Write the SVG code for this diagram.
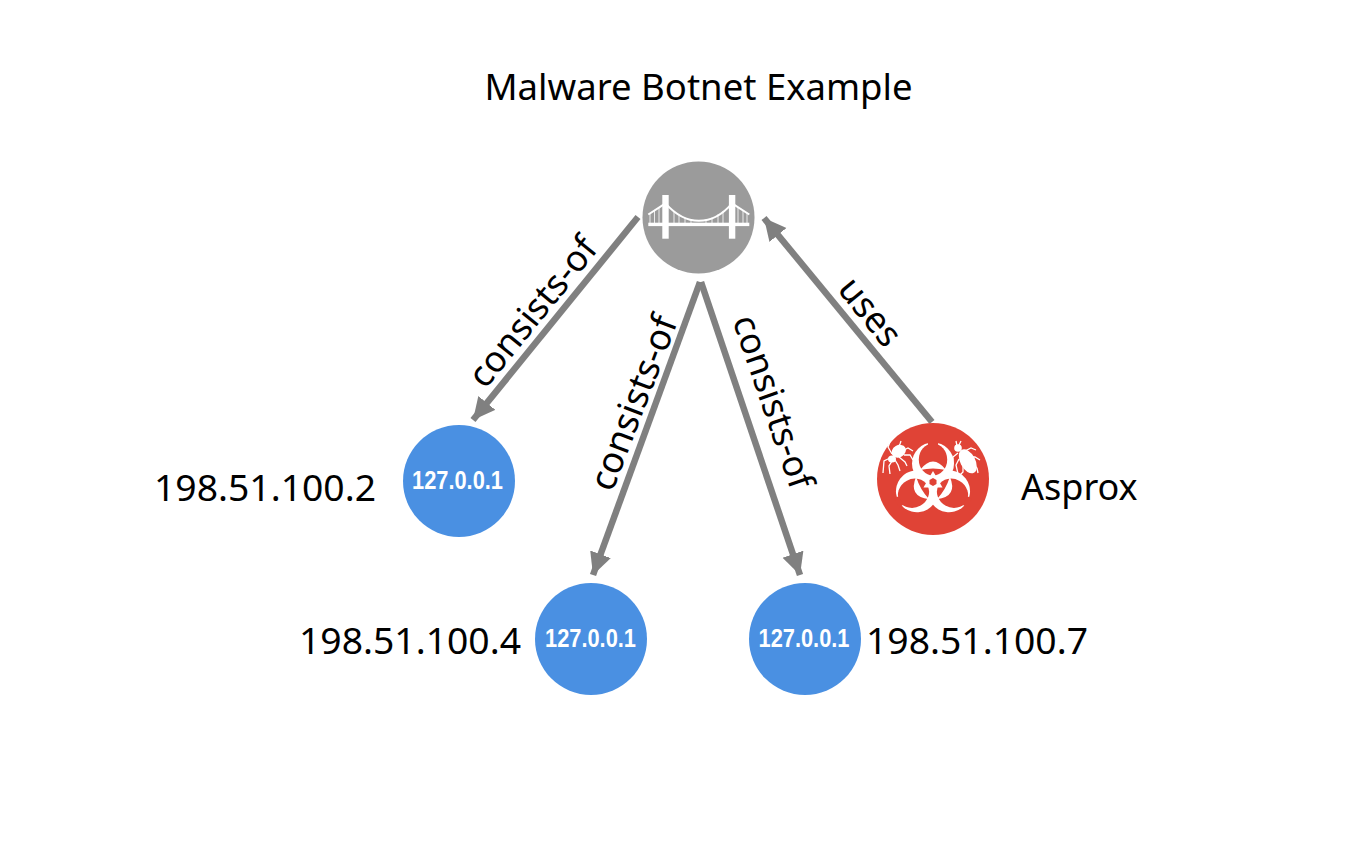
<svg xmlns="http://www.w3.org/2000/svg" width="1350" height="868" viewBox="0 0 1350 868">
<style>
.t{font-family:"Noto Sans","Open Sans",sans-serif;font-size:36px;fill:#000}
.n{font-size:37.300px}
.ip{font-family:"Liberation Sans",Arial,sans-serif;font-weight:bold;font-size:25px;fill:#fff;text-anchor:middle}
.l{stroke:#808080;stroke-width:6.500;fill:none;marker-end:url(#a)}
.w{fill:#fff}
.r{fill:#e04336}
.ws{stroke:#fff;fill:none}
</style>
<defs>
<marker id="a" markerUnits="userSpaceOnUse" markerWidth="26" markerHeight="24" refX="22" refY="11" orient="auto"><path d="M0 0L22 11L0 22z" fill="#808080"/></marker>
<g id="hole" class="r"><ellipse cy="-22.500" rx="14.200" ry="16"/><rect x="-5" y="-42" width="10" height="5"/></g>
<g id="leaf" class="w"><path d="M-13 -12Q0 -29 13 -12Q0 -15 -13 -12z"/><path d="M0 -11L3.500 -5H-3.500z"/></g>
</defs>
<rect width="1350" height="868" fill="#fff"/>
<text id="title" class="t" x="484.500" y="100" style="font-size:36.500px">Malware Botnet Example</text>
<g id="connectors">
<path class="l" d="M638 217L473 420"/>
<path class="l" d="M700 282L593 575"/>
<path class="l" d="M701 282L800 575"/>
<path class="l" d="M932 422L764 218"/>
<text class="t" text-anchor="middle" transform="translate(533 312) rotate(-51)" x="0" y="12">consists-of</text>
<text class="t" text-anchor="middle" transform="translate(634 403) rotate(-69)" x="0" y="12" style="font-size:36.500px">consists-of</text>
<text class="t" text-anchor="middle" transform="translate(773 402) rotate(71)" x="0" y="12">consists-of</text>
<text class="t" text-anchor="middle" transform="translate(870 312) rotate(51)" x="0" y="12">uses</text>
</g>
<g id="infrastructure">
<circle cx="698.500" cy="217.500" r="56" fill="#9b9b9b"/>
<rect class="w" x="662.300" y="195" width="6.400" height="43.700"/>
<rect class="w" x="728.900" y="195" width="6.400" height="43.700"/>
<rect class="w" x="648.300" y="222.700" width="101" height="3.400"/>
<path class="ws" stroke-width="2" d="M648.300 214.500L665.500 203.300C675 214 686 220.700 698.800 220.700C712 220.700 723 214 732 203.300L749.300 214.500"/>
<path class="ws" stroke-width="1" opacity="0.800" d="M650 213v10M654.500 210.500v12.500M659 207.500v15.500M674 211v12M679 214.500v8.500M685 217.500v5.500M691 219.500v3.500M706 219.500v3.500M712 217.500v5.500M718 214.500v8.500M723 211v12M738 207.500v15.500M743 210.500v12.500M747 213v10"/>
</g>
<g id="ip-2">
<circle cx="459" cy="481" r="56" fill="#4a90e2"/>
<text class="ip" x="457.500" y="489" textLength="91" lengthAdjust="spacingAndGlyphs">127.0.0.1</text>
<text class="t n" x="154" y="501">198.51.100.2</text>
</g>
<g id="ip-4">
<circle cx="591" cy="639" r="56" fill="#4a90e2"/>
<text class="ip" x="590.500" y="647" textLength="91" lengthAdjust="spacingAndGlyphs">127.0.0.1</text>
<text class="t n" x="299" y="654">198.51.100.4</text>
</g>
<g id="ip-7">
<circle cx="805" cy="639" r="56" fill="#4a90e2"/>
<text class="ip" x="804" y="647" textLength="91" lengthAdjust="spacingAndGlyphs">127.0.0.1</text>
<text class="t n" x="866" y="654">198.51.100.7</text>
</g>
<g id="malware">
<circle cx="933" cy="479" r="56" class="r"/>
<g transform="translate(933 482)">
<g class="w">
<circle cy="-18.500" r="21"/>
<circle cy="-18.500" r="21" transform="rotate(120)"/>
<circle cy="-18.500" r="21" transform="rotate(240)"/>
</g>
<use href="#hole"/>
<use href="#hole" transform="rotate(120)"/>
<use href="#hole" transform="rotate(240)"/>
<use href="#leaf"/>
<use href="#leaf" transform="rotate(120)"/>
<use href="#leaf" transform="rotate(240)"/>
<path class="r" d="M0 -4L3.500 -2V2L0 4L-3.500 2V-2z"/>
</g>
<g id="spider" transform="translate(898 454)">
<ellipse class="w" cx="2" cy="-2" rx="7.500" ry="6" transform="rotate(-30)"/>
<ellipse class="w" cx="-6" cy="5" rx="4" ry="3.500"/>
<path class="ws" stroke-width="1.300" d="M-6 0L-10 -7L-8 -12M-2 -4L2 -10L3 -13M4 -3L10 -6L15 -3M6 1L12 1L15 6M-8 4L-14 7L-15 19M-6 7L-9 12L-8 20M-3 6L0 11L2 17M1 3L7 8L9 12"/>
</g>
<g id="beetle" transform="translate(966 460)">
<ellipse class="w" cx="1" cy="2" rx="7.500" ry="13" transform="rotate(-28)"/>
<circle class="w" cx="-8" cy="-12" r="3.800"/>
<path class="ws" stroke-width="1.300" d="M-9 -14L-10 -19M-7 -15L-5 -19M-3 -8L5 -12L10 -10M2 -3L9 -3L14 0M5 3L11 8L12 13M-8 -7L-13 -3L-13 3M-7 -1L-10 5L-8 14M-3 6L-3 12L-6 15"/>
</g>
<text class="t" x="1021" y="500">Asprox</text>
</g>
</svg>
